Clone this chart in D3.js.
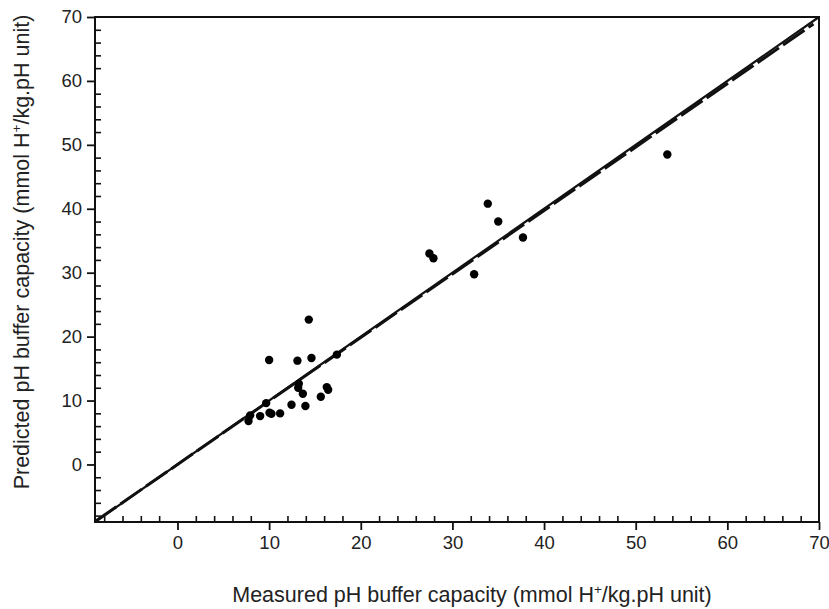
<!DOCTYPE html>
<html>
<head>
<meta charset="utf-8">
<script src="https://cdn.jsdelivr.net/npm/d3@7"></script>
<style>
  body { margin: 0; background: #fff; }
  text { font-family: "Liberation Sans", Arial, Helvetica, sans-serif; fill: #222; }
</style>
</head>
<body>
<script>
// Measured vs predicted pH buffer capacity (mmol H+/kg.pH unit)
var measured = [7.75, 7.93, 9.02, 9.68, 10.0, 10.04, 10.25, 11.2, 12.44, 13.09, 13.17, 13.24, 13.68, 13.96,
  14.33, 14.62, 15.64, 16.29, 16.44, 17.39, 27.49, 27.93, 32.37, 33.86, 35.0, 37.7, 53.45];
var predicted = [6.79, 7.68, 7.57, 9.6, 16.34, 8.1, 7.94, 7.99, 9.35, 16.24, 12.0, 12.63, 11.07, 9.14,
  22.66, 16.65, 10.6, 12.1, 11.7, 17.18, 33.0, 32.26, 29.76, 40.8, 38.0, 35.5, 48.5];

// 1:1 line and fitted regression line (slope, intercept)
var oneToOne = [1, 0];
var regression = [0.993, 0];

var majorTicks = [0, 10, 20, 30, 40, 50, 60, 70];
var axisDomain = [-9, 70];

var svgWidth = 829;
var svgHeight = 609;
var margin = { top: 17, right: 10, bottom: 87, left: 95 };
var chartWidth = svgWidth - margin.left - margin.right;
var chartHeight = svgHeight - margin.top - margin.bottom;

var svg = d3.select("body")
  .append("svg")
  .attr("width", svgWidth)
  .attr("height", svgHeight);

var chartGroup = svg.append("g")
  .attr("transform", `translate(${margin.left}, ${margin.top})`);

var xScale = d3.scaleLinear().domain(axisDomain).range([0, chartWidth]);
var yScale = d3.scaleLinear().domain(axisDomain).range([chartHeight, 0]);

// minor ticks every 2 units, drawn inside
var minorTicks = d3.range(-8, 70, 2).filter(d => d % 10 !== 0);

chartGroup.append("g")
  .attr("transform", `translate(0, ${chartHeight})`)
  .call(d3.axisBottom(xScale).tickValues(minorTicks).tickSize(-6).tickFormat(""))
  .call(g => g.select(".domain").remove())
  .selectAll("line").attr("stroke", "#111").attr("stroke-width", 1.6);

chartGroup.append("g")
  .call(d3.axisLeft(yScale).tickValues(minorTicks).tickSize(-6).tickFormat(""))
  .call(g => g.select(".domain").remove())
  .selectAll("line").attr("stroke", "#111").attr("stroke-width", 1.6);

// major ticks, outside, with labels
var xAxis = chartGroup.append("g")
  .attr("transform", `translate(0, ${chartHeight})`)
  .call(d3.axisBottom(xScale).tickValues(majorTicks).tickSize(8).tickPadding(6).tickSizeOuter(0));
xAxis.select(".domain").remove();
xAxis.selectAll("line").attr("stroke", "#111").attr("stroke-width", 1.8);
xAxis.selectAll("text").style("font-size", "18.5px").attr("fill", "#222");

var yAxis = chartGroup.append("g")
  .call(d3.axisLeft(yScale).tickValues(majorTicks).tickSize(8).tickPadding(5).tickSizeOuter(0));
yAxis.select(".domain").remove();
yAxis.selectAll("line").attr("stroke", "#111").attr("stroke-width", 1.8);
yAxis.selectAll("text").style("font-size", "18.5px").attr("fill", "#222");

// frame
chartGroup.append("rect")
  .attr("x", 0).attr("y", 0)
  .attr("width", chartWidth).attr("height", chartHeight)
  .attr("fill", "none")
  .attr("stroke", "#111")
  .attr("stroke-width", 2);

// lines
var drawLine = d3.line()
  .x(d => xScale(d[0]))
  .y(d => yScale(d[1]));

function linePoints(coef, x0, x1) {
  return [[x0, coef[0] * x0 + coef[1]], [x1, coef[0] * x1 + coef[1]]];
}

chartGroup.append("path")
  .attr("d", drawLine(linePoints(regression, -9, 69.4)))
  .attr("fill", "none")
  .attr("stroke", "#111")
  .attr("stroke-width", 3)
  .attr("stroke-dasharray", "26 5");

chartGroup.append("path")
  .attr("d", drawLine(linePoints(oneToOne, -9, 70)))
  .attr("fill", "none")
  .attr("stroke", "#111")
  .attr("stroke-width", 2.2);

// points
chartGroup.selectAll("circle")
  .data(measured)
  .enter()
  .append("circle")
  .attr("cx", d => xScale(d))
  .attr("cy", (d, i) => yScale(predicted[i]))
  .attr("r", 4.2)
  .attr("fill", "#000");

// axis titles
var xTitle = svg.append("text")
  .attr("x", 472)
  .attr("y", 602)
  .attr("text-anchor", "middle")
  .style("font-size", "21.5px");
xTitle.append("tspan").text("Measured pH buffer capacity (mmol H");
xTitle.append("tspan").attr("dy", -8).style("font-size", "13.5px").text("+");
xTitle.append("tspan").attr("dy", 8).text("/kg.pH unit)");

var yTitle = svg.append("text")
  .attr("transform", "translate(29, 252) rotate(-90)")
  .attr("text-anchor", "middle")
  .style("font-size", "21.5px");
yTitle.append("tspan").text("Predicted pH buffer capacity (mmol H");
yTitle.append("tspan").attr("dy", -8).style("font-size", "13.5px").text("+");
yTitle.append("tspan").attr("dy", 8).text("/kg.pH unit)");
</script>
</body>
</html>
